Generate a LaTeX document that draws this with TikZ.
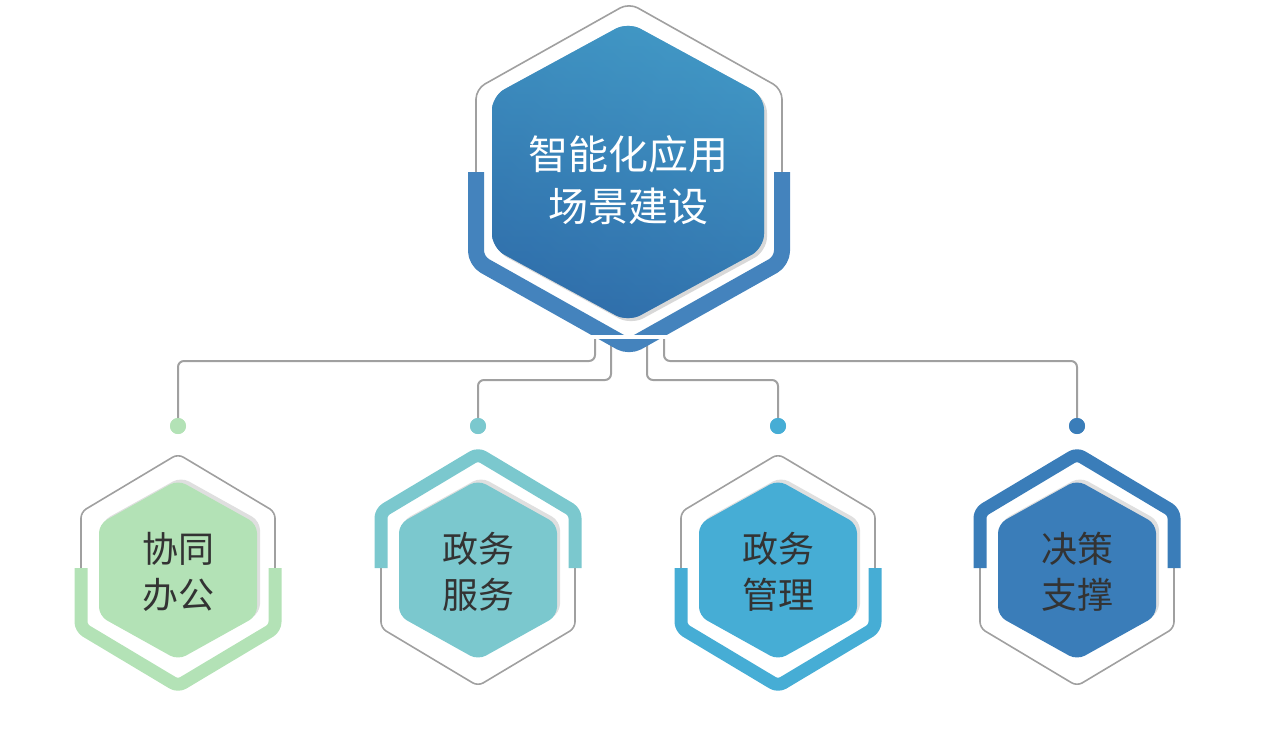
\documentclass[tikz,border=0pt]{standalone}
\usepackage{fontspec}
\newfontfamily\cjk{Noto Sans CJK SC}
\usetikzlibrary{shadows,calc}
\definecolor{cgreen}{HTML}{B3E2B6}
\definecolor{cteal}{HTML}{7BC8CE}
\definecolor{ccyan}{HTML}{46ADD5}
\definecolor{cblue}{HTML}{3A7DB9}
\definecolor{mainA}{HTML}{4299C6}
\definecolor{mainB}{HTML}{2F6DAA}
\definecolor{lgray}{HTML}{A0A0A0}
\tikzset{
  thin line/.style={draw=lgray,line width=1.6pt,rounded corners=6pt},
  band/.style={line width=13pt,line join=round,line cap=butt,rounded corners=6pt},
  conn/.style={draw=lgray,line width=2pt,rounded corners=6pt},
  dotnode/.style={circle,inner sep=0pt,minimum size=16pt},
  label/.style={font=\cjk\fontsize{36}{46}\selectfont,align=center,text=black!80},
}
% hex path: center, halfwidth w, top height h, side half a
\newcommand{\hexpath}[5]{(#1,#2-#4) -- (#1+#3,#2-#5) -- (#1+#3,#2+#5) -- (#1,#2+#4) -- (#1-#3,#2+#5) -- (#1-#3,#2-#5) -- cycle}
\newcommand{\smallhex}[4]{% x, fill, bandcolor, top(1)/bottom(0)
  \draw[thin line] \hexpath{#1}{570}{97}{116}{58};
  \ifnum#4=1
    \draw[band,draw=#3] (#1-97,568) -- (#1-97,512) -- (#1,454) -- (#1+97,512) -- (#1+97,568);
  \else
    \draw[band,draw=#3] (#1-97,568) -- (#1-97,628) -- (#1,686) -- (#1+97,628) -- (#1+97,568);
  \fi
  \fill[#2,rounded corners=9pt,drop shadow={opacity=0.25,shadow xshift=3pt,shadow yshift=3pt}] \hexpath{#1}{570}{79}{90}{46};
}
\begin{document}
\begin{tikzpicture}[x=1pt,y=-1pt]
\useasboundingbox (0,0) rectangle (1272,734);
% connectors
\coordinate (s1) at (595,330); \coordinate (s2) at (611,330);
\coordinate (s3) at (647,330); \coordinate (s4) at (664,330);
\node[dotnode,fill=cgreen] (d1) at (178,426) {};
\node[dotnode,fill=cteal] (d2) at (478,426) {};
\node[dotnode,fill=ccyan] (d3) at (778,426) {};
\node[dotnode,fill=cblue] (d4) at (1077,426) {};
\draw[conn] (s1) |- (360,361) -| (d1.center);
\draw[conn] (s2) |- (540,380) -| (d2.center);
\draw[conn] (s3) |- (720,380) -| (d3.center);
\draw[conn] (s4) |- (900,361) -| (d4.center);
\foreach \n/\c in {d1/cgreen,d2/cteal,d3/ccyan,d4/cblue} \fill[\c] (\n) circle (8);
% main hexagon
\fill[white] \hexpath{629}{175}{153}{172}{86};
\draw[thin line,rounded corners=10pt] \hexpath{629}{175}{153}{172}{86};
\draw[band,line width=16pt,draw=cblue!95,rounded corners=10pt] (476,172) -- (476,261) -- (629,347) -- (782,261) -- (782,172);
\fill[white] (590,335) rectangle (668,339);
\shade[left color=mainA,right color=mainB,shading angle=-45,rounded corners=14pt,drop shadow={opacity=0.3,shadow xshift=3pt,shadow yshift=-3pt}] \hexpath{628}{172}{136}{150}{76};
\shade[top color=mainA,bottom color=mainB,opacity=0.6,rounded corners=14pt] \hexpath{628}{172}{136}{150}{76};
\node[label,text=white,font=\cjk\fontsize{40}{52}\selectfont] (main) at (628,180) {智能化应用\\场景建设};
% small hexagons
\smallhex{178}{cgreen}{cgreen}{0}
\smallhex{478}{cteal}{cteal}{1}
\smallhex{778}{ccyan}{ccyan}{0}
\smallhex{1077}{cblue}{cblue}{1}
\node[label] (t1) at (178,572) {协同\\办公};
\node[label] (t2) at (478,572) {政务\\服务};
\node[label] (t3) at (778,572) {政务\\管理};
\node[label] (t4) at (1077,572) {决策\\支撑};
\end{tikzpicture}
\end{document}
